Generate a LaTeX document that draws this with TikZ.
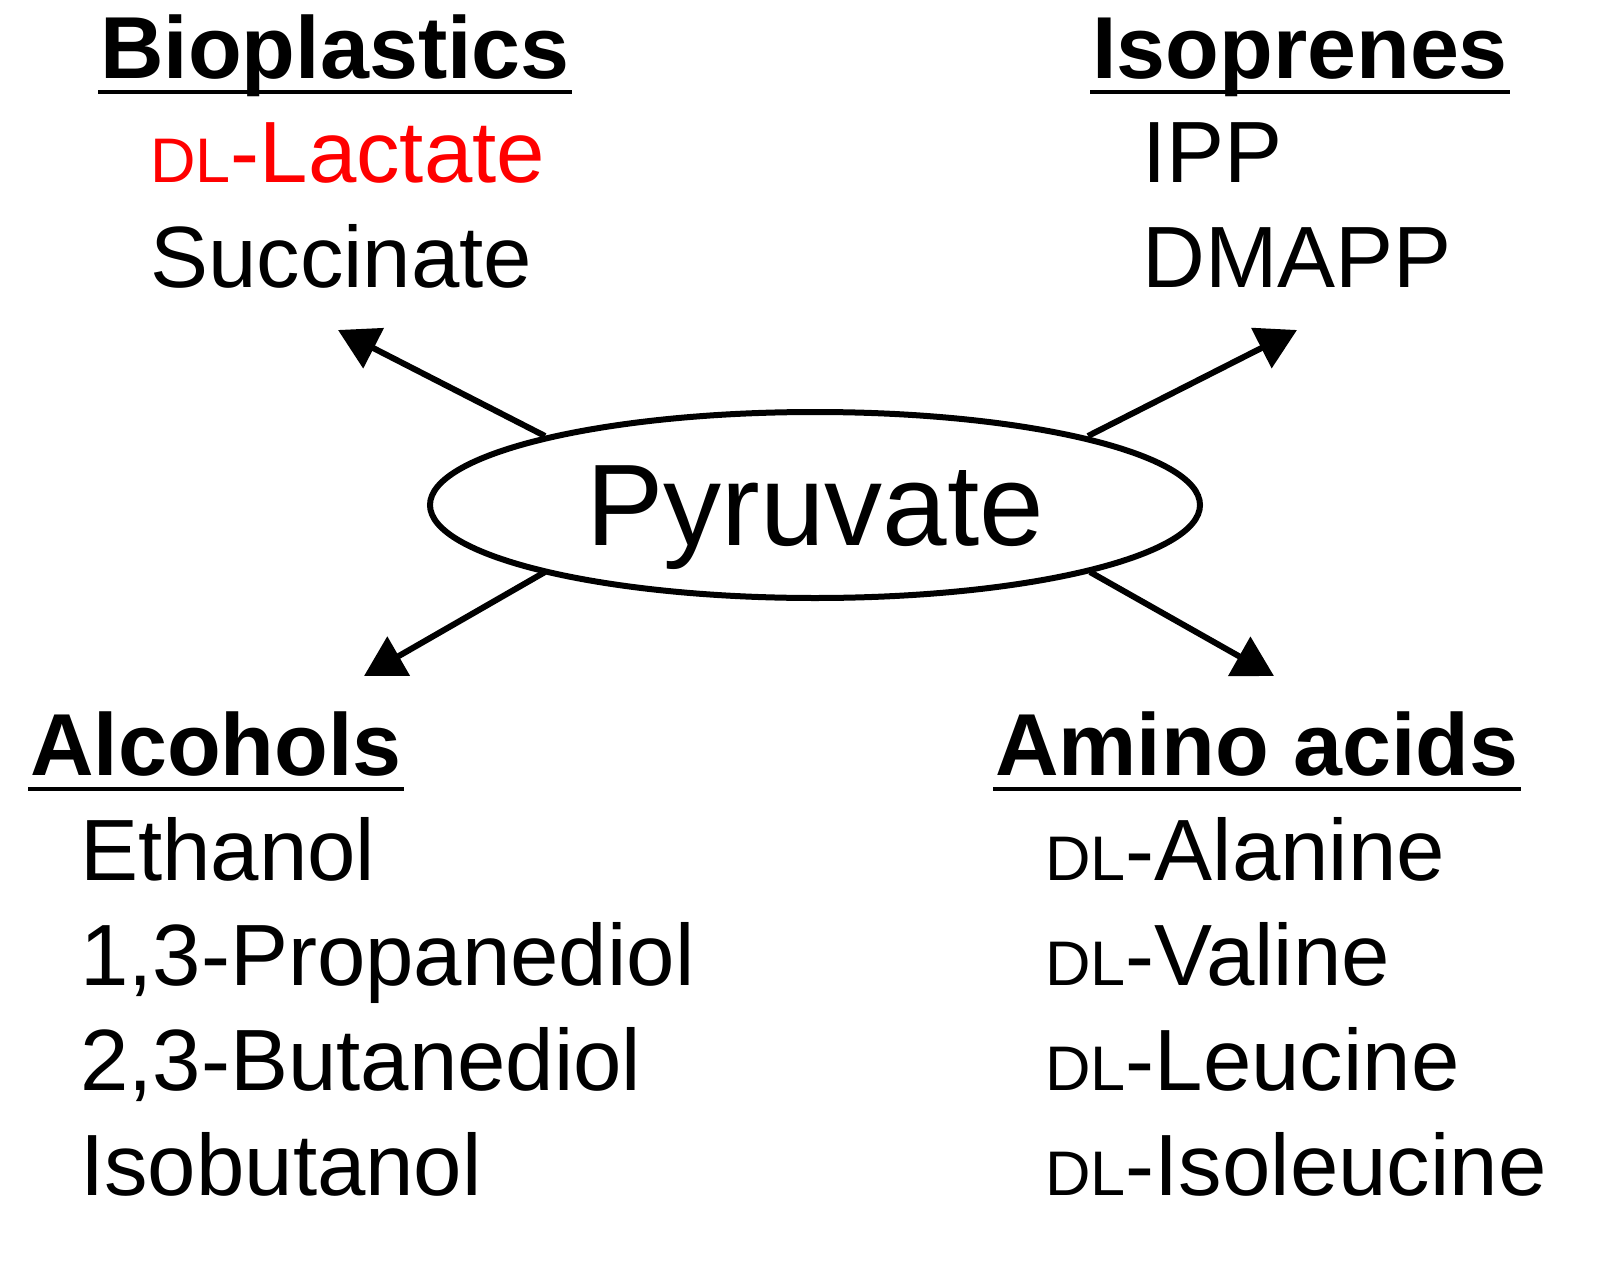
\documentclass[tikz,border=0pt]{standalone}
\usepackage{fontspec}
\setmainfont{Liberation Sans}
\usetikzlibrary{arrows.meta,shapes.geometric}
\begin{document}
\begin{tikzpicture}[x=1pt,y=-1pt,
  head/.style={anchor=base west,inner sep=0pt,font=\fontsize{88}{96}\selectfont\bfseries},
  item/.style={anchor=base west,inner sep=0pt,font=\fontsize{87}{96}\selectfont},
  arr/.style={line width=6pt,-{Triangle[length=40pt,width=44pt]}},
  ul/.style={line width=3.5pt}]
\newcommand{\dl}{{\fontsize{63}{66}\selectfont DL}}
\useasboundingbox (0,0) rectangle (1618,1266);
\node[draw,line width=6pt,ellipse,minimum width=770pt,minimum height=186pt,inner sep=0pt] (p) at (815,505) {};
\node[inner sep=0pt,font=\fontsize{116}{120}\selectfont,anchor=base] (pt) at (815,545) {Pyruvate};
\node[head] (bio) at (100,78) {Bioplastics};
\draw[ul] ([shift={(-2,14)}]bio.base west) -- ([shift={(2,14)}]bio.base east);
\node[item,text=red] (lac) at (150,182) {\dl-Lactate};
\node[item] (suc) at (150,287) {Succinate};
\node[head] (iso) at (1092,78) {Isoprenes};
\draw[ul] ([shift={(-2,14)}]iso.base west) -- ([shift={(2,14)}]iso.base east);
\node[item] (ipp) at (1142,182) {IPP};
\node[item] (dma) at (1142,287) {DMAPP};
\node[head] (alc) at (30,775) {Alcohols};
\draw[ul] ([shift={(-2,14)}]alc.base west) -- ([shift={(2,14)}]alc.base east);
\node[item] (eth) at (80,880) {Ethanol};
\node[item] (pro) at (80,985) {1,3-Propanediol};
\node[item] (but) at (80,1090) {2,3-Butanediol};
\node[item] (ibu) at (80,1195) {Isobutanol};
\node[head] (ami) at (995,775) {Amino acids};
\draw[ul] ([shift={(-2,14)}]ami.base west) -- ([shift={(2,14)}]ami.base east);
\node[item] (ala) at (1045,880) {\dl-Alanine};
\node[item] (val) at (1045,985) {\dl-Valine};
\node[item] (leu) at (1045,1090) {\dl-Leucine};
\node[item] (ile) at (1045,1195) {\dl-Isoleucine};
\coordinate (a1) at (545,436); \coordinate (b1) at (338,330);
\coordinate (a2) at (1088,436); \coordinate (b2) at (1297,330);
\coordinate (a3) at (545,572); \coordinate (b3) at (364,676);
\coordinate (a4) at (1090,572); \coordinate (b4) at (1274,676);
\draw[arr] (a1) -- (b1);
\draw[arr] (a2) -- (b2);
\draw[arr] (a3) -- (b3);
\draw[arr] (a4) -- (b4);
\end{tikzpicture}
\end{document}
